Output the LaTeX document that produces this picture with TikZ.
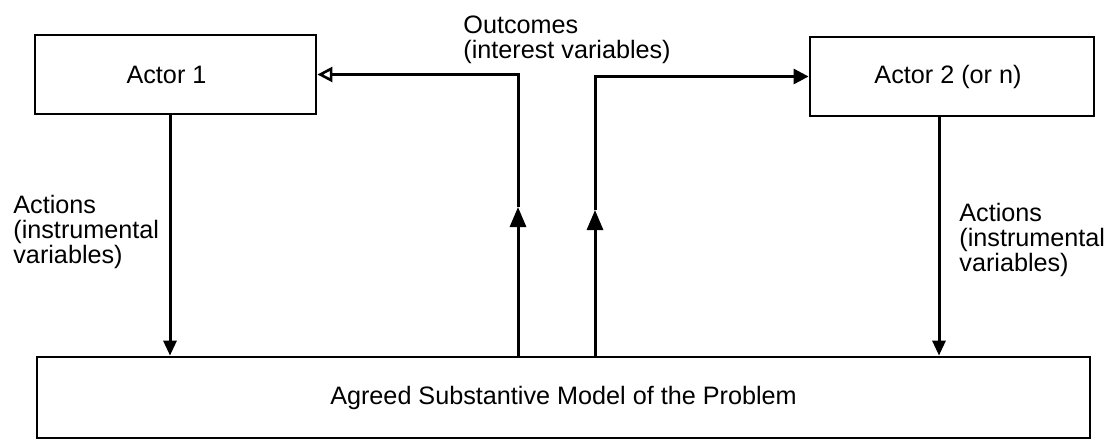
\documentclass[tikz,border=0pt]{standalone}
\usepackage{fontspec}
\setmainfont{Liberation Sans}
\usetikzlibrary{arrows.meta}
\begin{document}
\begin{tikzpicture}[x=0.5pt,y=-0.5pt,
  every node/.style={font=\fontsize{12.6}{12.5}\selectfont},
  box/.style={draw,line width=1.4pt,rectangle,inner sep=0pt},
  lbl/.style={anchor=north west,inner sep=0pt,align=left},
  conn/.style={line width=1.5pt},
  downarr/.style={conn,-{Triangle[length=7.5pt,width=6.5pt]}},
  uparr/.style={conn,-{Triangle[length=10pt,width=8pt]}},
  openarr/.style={conn,-{Triangle[open,length=7.5pt,width=7.5pt,line width=1.3pt]}},
  fillarr/.style={conn,-{Triangle[length=7.5pt,width=7.5pt]}}]
\useasboundingbox (0,0) rectangle (1109,440);
% boxes
\node[box,minimum width=140.5pt,minimum height=39.5pt] (a1) at (175.5,74.5) {Actor 1\hspace*{9pt}};
\node[box,minimum width=142pt,minimum height=39.5pt] (a2) at (952,76.5) {Actor 2 (or n)\hspace*{4pt}};
\node[box,minimum width=526.5pt,minimum height=40.5pt] (model) at (563.5,397.5) {Agreed Substantive Model of the Problem};
% labels
\node[lbl] (lout) at (463,15) {Outcomes\\(interest variables)};
\node[lbl] (lact1) at (13,195) {Actions\\(instrumental\\variables)};
\node[lbl] (lact2) at (959,203) {Actions\\(instrumental\\variables)};
% helper coordinates
\coordinate (cL) at (170,0);
\coordinate (cR) at (939,0);
\coordinate (cU1) at (518,0);
\coordinate (cU2) at (595,0);
\coordinate (m1) at (518,207);
\coordinate (m2) at (595,210);
% actions
\draw[downarr] (a1.south -| cL) -- (model.north -| cL);
\draw[downarr] (a2.south -| cR) -- (model.north -| cR);
% outcomes
\draw[uparr] (model.north -| cU1) -- (m1);
\draw[openarr] (m1) |- (a1.east);
\draw[uparr] (model.north -| cU2) -- (m2);
\draw[fillarr] (m2) |- (a2.west);
\end{tikzpicture}
\end{document}
